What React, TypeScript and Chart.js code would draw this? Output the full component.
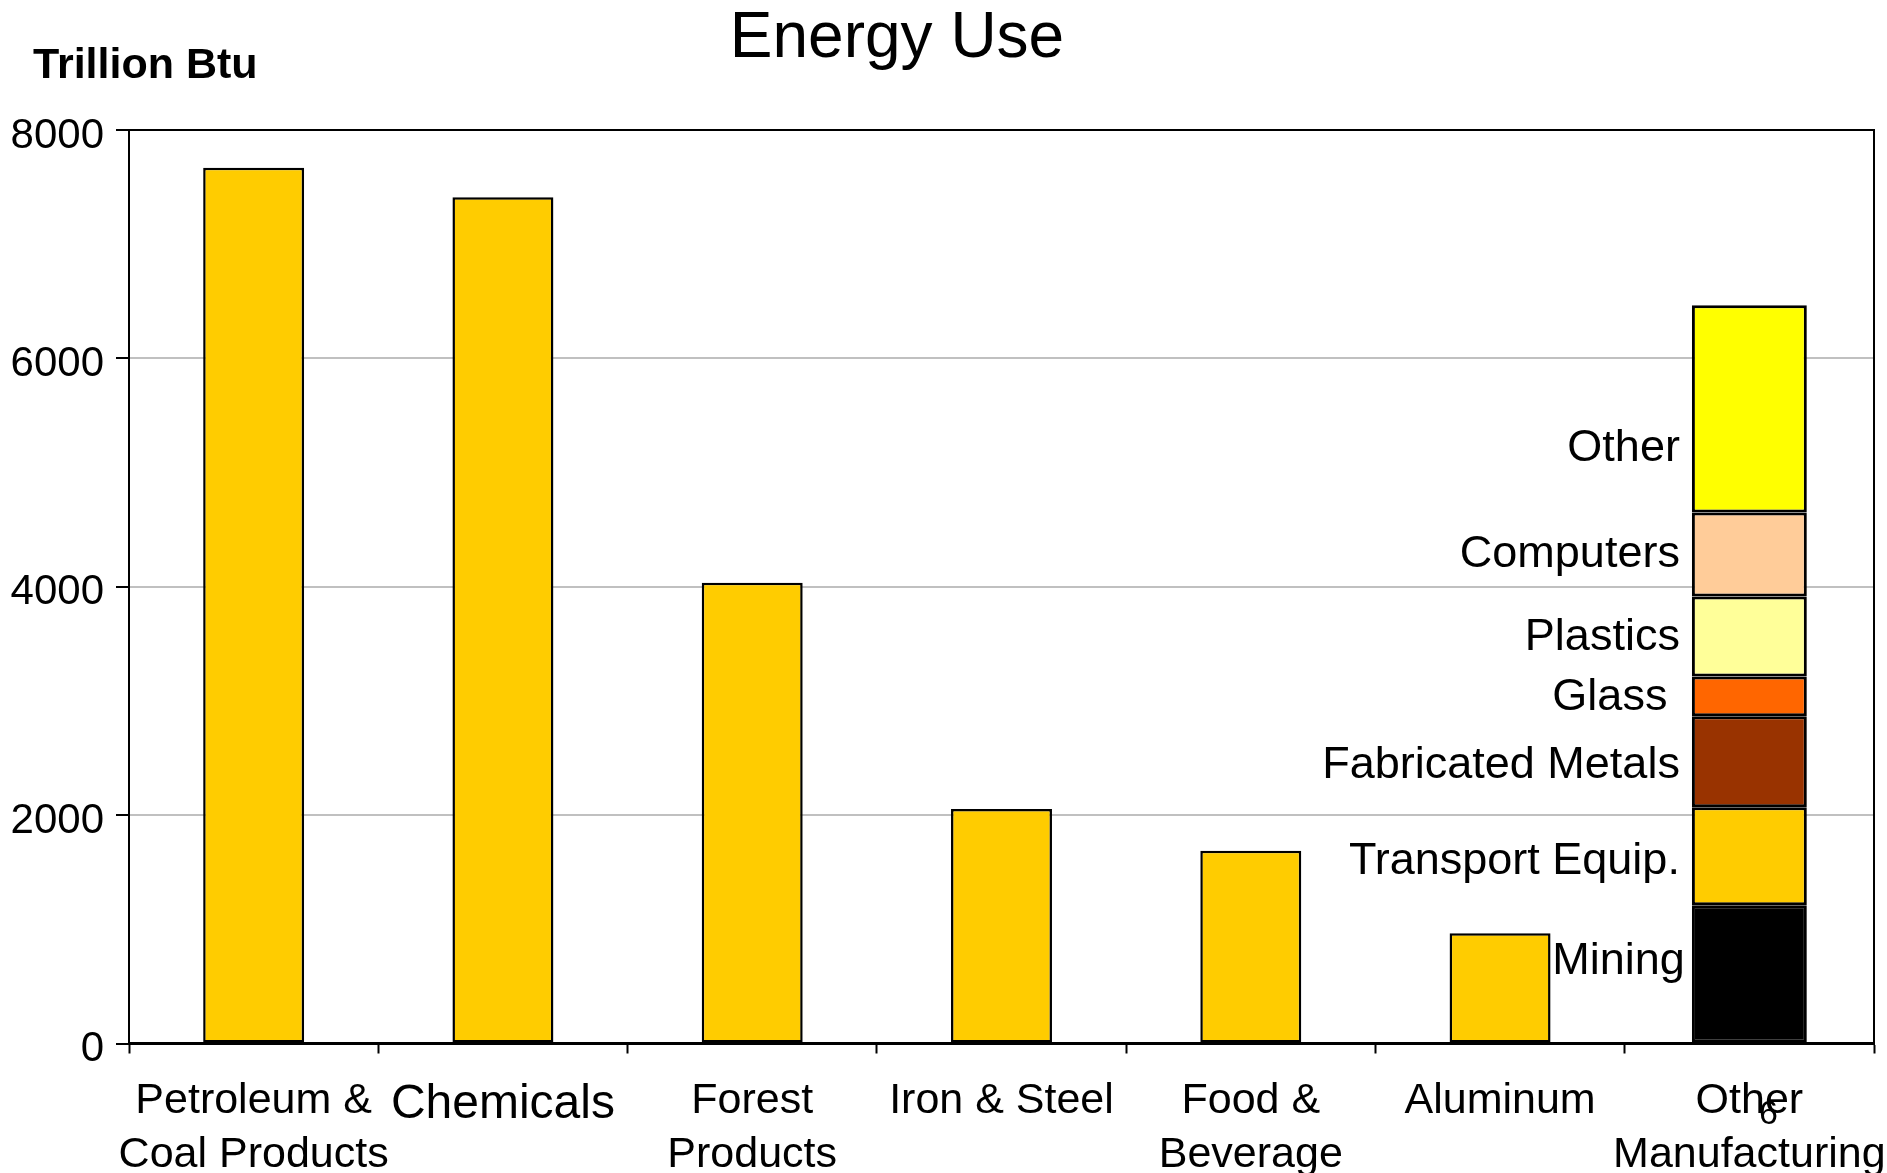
import React, { useEffect, useRef } from "react";
import { Chart, registerables } from "chart.js";

Chart.register(...registerables);

const FONT = '"Liberation Sans", Arial, Helvetica, sans-serif';

const TITLE = "Energy Use";
const UNIT_LABEL = "Trillion Btu";
const FOOTNOTE = "6";

const CATEGORIES: (string | string[])[] = [
  ["Petroleum &", "Coal Products"],
  "Chemicals",
  ["Forest", "Products"],
  "Iron & Steel",
  ["Food &", "Beverage"],
  "Aluminum",
  ["Other", "Manufacturing"],
];

const ENERGY_USE: (number | null)[] = [7670, 7410, 4035, 2054, 1688, 965, null];

const OTHER_INDEX = 6;
const SUB_SECTORS = ["Mining", "Transport Equip.", "Fabricated Metals", "Glass ", "Plastics", "Computers", "Other"];
const SUB_VALUES = [1210, 860, 795, 350, 700, 735, 1815];
const SUB_COLORS = ["#000000", "#FFCC00", "#993300", "#FF6600", "#FFFF99", "#FFCC99", "#FFFF00"];

const Y_TICKS = [0, 2000, 4000, 6000, 8000];

// label vertical nudges (style only)
const LABEL_NUDGE = [-12, 5, 4, 1, 1, 0, 40];

const annotatePlugin = {
  id: "annotate",
  beforeDatasetsDraw(chart: any) {
    const { ctx, chartArea: a } = chart;
    ctx.save();
    ctx.strokeStyle = "#000";
    ctx.lineWidth = 2;
    ctx.beginPath();
    ctx.moveTo(a.left, a.top);
    ctx.lineTo(a.right, a.top);
    ctx.lineTo(a.right, a.bottom);
    ctx.stroke();
    ctx.restore();
  },
  afterDraw(chart: any) {
    const { ctx, chartArea: a } = chart;
    ctx.save();
    ctx.fillStyle = "#000";
    ctx.font = `64px ${FONT}`;
    ctx.textAlign = "center";
    ctx.textBaseline = "alphabetic";
    ctx.fillText(TITLE, 897, 57);
    ctx.font = `bold 43px ${FONT}`;
    ctx.textAlign = "left";
    ctx.fillText(UNIT_LABEL, 33, 78);

    ctx.font = `45px ${FONT}`;
    ctx.textAlign = "right";
    ctx.textBaseline = "middle";
    SUB_SECTORS.forEach((name, i) => {
      const meta = chart.getDatasetMeta(i + 1);
      const el = meta.data[OTHER_INDEX];
      if (!el) return;
      const p = el.getProps(["x", "y", "base", "width"], true);
      const gap = i === 0 ? 7 : 12;
      ctx.fillText(name, p.x - p.width / 2 - gap, (p.y + p.base) / 2 + LABEL_NUDGE[i]);
    });

    const xs = chart.scales.x;
    ctx.font = `34px ${FONT}`;
    ctx.textAlign = "center";
    ctx.fillText(FOOTNOTE, xs.getPixelForValue(OTHER_INDEX) + 19, a.bottom + 71);
    ctx.restore();
  },
};

export default function App() {
  const ref = useRef<HTMLCanvasElement | null>(null);

  useEffect(() => {
    document.body.style.margin = "0";
    document.body.style.overflow = "hidden";
    const canvas = ref.current;
    if (!canvas) return;

    const subDatasets = SUB_SECTORS.map((name, i) => ({
      label: name,
      data: CATEGORIES.map((_, j) => (j === OTHER_INDEX ? SUB_VALUES[i] : null)),
      backgroundColor: SUB_COLORS[i],
      borderColor: "#000",
      borderWidth: 3,
      borderSkipped: false as const,
      categoryPercentage: 1,
      barPercentage: 0.461,
      stack: "s",
    }));

    const chart = new Chart(canvas, {
      type: "bar",
      data: {
        labels: CATEGORIES as any,
        datasets: [
          {
            label: "Energy Use",
            data: ENERGY_USE,
            backgroundColor: "#FFCC00",
            borderColor: "#000",
            borderWidth: 2.5,
            borderSkipped: false as const,
            categoryPercentage: 1,
            barPercentage: 0.405,
            stack: "s",
          },
          ...subDatasets,
        ] as any,
      },
      options: {
        animation: false,
        responsive: true,
        maintainAspectRatio: false,
        layout: { padding: { top: 130, right: 13, bottom: 0, left: 0 } },
        plugins: {
          legend: { display: false },
          title: { display: false },
          tooltip: { enabled: false },
        },
        scales: {
          x: {
            stacked: true,
            offset: true,
            grid: {
              offset: true,
              drawOnChartArea: false,
              drawTicks: true,
              tickLength: 10,
              tickColor: "#000",
              tickWidth: 2,
            },
            border: { display: true, color: "#000", width: 3 },
            ticks: {
              color: "#000",
              padding: 21,
              maxRotation: 0,
              minRotation: 0,
              autoSkip: false,
              font: (c: any) => ({
                family: FONT,
                size: c.index === 1 ? 48 : 43,
                lineHeight: 1.25,
              }),
            },
            afterFit: (scale: any) => {
              scale.height = 129.5;
              scale.paddingLeft = 0;
              scale.paddingRight = 0;
            },
          },
          y: {
            stacked: true,
            min: 0,
            max: 8000,
            afterBuildTicks: (scale: any) => {
              scale.ticks = Y_TICKS.map((v) => ({ value: v }));
            },
            grid: {
              color: (c: any) =>
                c.tick && (c.tick.value === 0 || c.tick.value === 8000) ? "rgba(0,0,0,0)" : "#C0C0C0",
              lineWidth: 2,
              drawTicks: true,
              tickLength: 13,
              tickColor: "#000",
              tickWidth: 2,
            },
            border: { display: true, color: "#000", width: 2 },
            ticks: {
              color: "#000",
              padding: 12,
              labelOffset: 6,
              font: { family: FONT, size: 42 },
              callback: (v: any) => String(v),
            },
            afterFit: (scale: any) => {
              scale.width = 129;
            },
          },
        },
      },
      plugins: [annotatePlugin],
    });

    return () => chart.destroy();
  }, []);

  return (
    <div style={{ width: 1887, height: 1173, position: "relative", background: "#fff" }}>
      <canvas ref={ref} />
    </div>
  );
}
